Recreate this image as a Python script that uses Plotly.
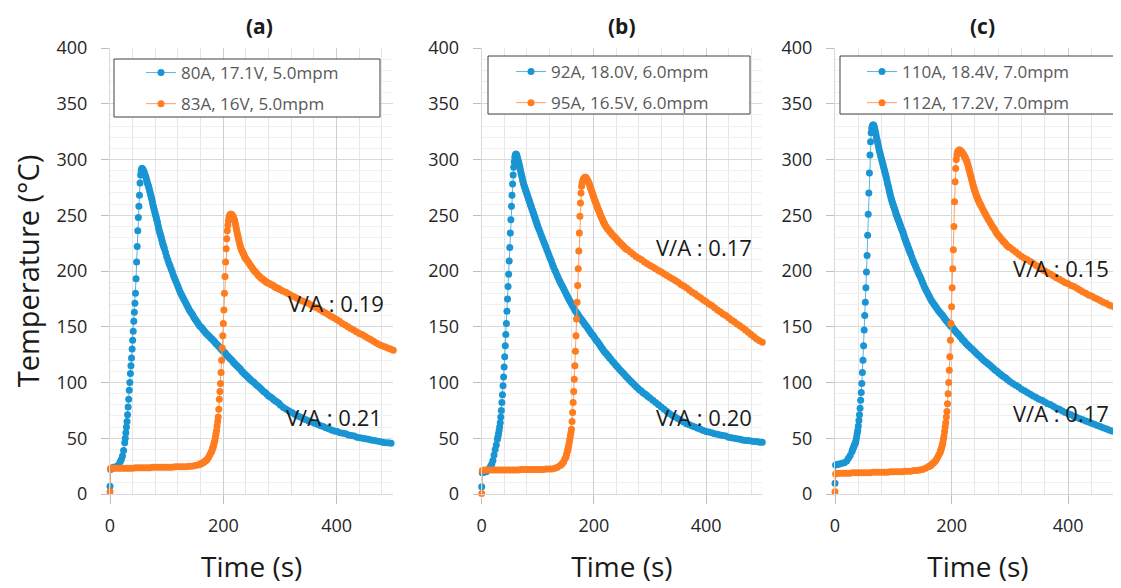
import plotly.graph_objects as go

# The page body has an 8px margin, so the figure is laid out in reference pixels minus 8.
OFF = 8
W, H = 1121 - OFF, 588 - OFF
FONT = "Open Sans"
BLUE = "#1A95D4"
ORANGE = "#FF7C1F"

# ---------------- data ----------------
# each series: segments of (first time s, time step s, [temperatures C])
A_BLUE = [
    (0, 1, [7, 22]),
    (3, 3, [23, 24, 24, 25, 26, 29]),
    (20, 2, [31, 34, 39]),
    (26, 1, [46, 50, 55, 60, 65, 71, 78, 85, 93, 100, 108, 115, 122, 130, 138, 146, 155, 163, 171, 180,
             193, 208, 222, 236, 248, 258, 268, 279, 286, 290, 292,
             292, 291, 290, 289, 287.5, 286, 284.5, 283, 281, 279, 277.5, 276, 274, 272, 270, 268, 266, 264,
             261.5, 259, 257, 255, 253, 251, 249, 247, 245, 243, 240.5, 238, 236, 234, 232.5, 231, 229, 227,
             225, 223, 221.5, 220]),
    (98, 2, [216.5, 213, 210, 207, 204.5, 201.5, 199, 196, 193.5, 191, 188.5, 186, 183.5, 181, 179, 177, 175,
             173, 171, 169, 167, 165, 163.5, 162, 160.5, 158.5, 157, 155.5, 154, 152.5, 151, 150, 149, 147.5,
             146.5, 145, 144, 143, 142, 141, 140, 139, 138, 137, 135.5, 134.5, 133.5, 132.5, 131.5, 130, 129,
             128, 127, 126, 124.5, 123.5, 122.5, 121.5, 120.5, 119.5, 118, 117, 116, 115, 114, 113, 112,
             110.5, 109.5, 108.5, 107.5, 106.5, 105.5, 104.5, 103.5, 102.5, 101.5]),
    (253, 3, [100.5, 99, 97.5, 96.5, 95, 93.5, 92, 91, 89.5, 88, 87, 86, 84.5, 83.5, 82.5, 81.5]),
    (301, 5, [79.5, 77.5, 76, 74.5, 73, 71.5, 70, 69, 67.5, 66.5, 65.5, 64.5, 63.5, 62.5, 61.5, 60.5, 59.5,
              58.5, 57.5, 56.5, 56, 55, 54.5, 54, 53, 52.5, 52, 51, 50.5, 50, 49.5, 49, 48.5, 48, 47.5, 47,
              46.5, 46, 46, 45.5]),
]

A_ORANGE = [
    (0, 1, [2, 23]),
    (5, 5, [23, 23, 23, 23, 23, 23, 23, 23, 23.5, 23.5, 23.5, 23.5, 23.5, 23.5, 24, 24, 24, 24, 24, 24,
            24, 24, 24.5, 24.5, 24.5, 24.5, 24.5, 25, 25, 25.5, 26]),
    (158, 2, [26.5, 27, 27.5, 28, 28.7, 29.5, 30, 31.5, 33, 35, 37]),
    (179, 1, [38, 39, 41, 42, 44, 46, 48, 51, 54, 57, 61, 65, 69, 76, 85, 92, 99, 109, 120, 131, 142, 153,
              165, 180, 195, 208, 220, 229, 236, 241, 245, 248, 249.5, 250.5, 251, 251, 250.5, 250, 249,
              248, 246.5, 245, 243, 240.5, 238, 235.5, 233, 231, 228.5, 226, 224, 222, 220.5, 219, 218,
              217, 216, 215, 213.5, 212.5, 211.5, 211]),
    (242, 2, [209.5, 208, 206.5, 205, 203.5, 202, 200.5, 199.5, 198.5, 197, 196, 195, 194, 193, 192.5,
              191.5, 191, 190, 189.5, 189, 188.5, 188, 187.5, 187, 186, 185.5, 185, 184.5, 184, 183.5]),
    (305, 5, [182, 181, 179.5, 178, 177, 175.5, 174, 173, 172, 171, 169.5, 168, 167, 165.5, 164, 162.5,
              161, 159.5, 158, 156.5, 155, 153, 151.5, 150, 148.5, 147, 145.5, 144, 143, 141.5, 140, 138.5,
              137, 135.5, 134, 133, 132, 131, 130, 129]),
]

B_BLUE = [
    (0, 1, [6.5, 19]),
    (4, 4, [19.5, 20, 21.5]),
    (14, 2, [23, 25, 27, 30, 35, 40, 44, 49]),
    (29, 1, [51.5, 54, 57, 60, 64, 69, 75, 82, 89, 97, 105, 114, 123, 133, 143, 153, 164, 175, 186, 197,
             209, 221, 234, 246, 258, 268, 278, 286, 293, 298, 302, 304, 305,
             304.5, 303, 301, 299, 297, 295, 293, 290.5, 288, 286, 284, 281.5, 279.5, 277.5, 276, 274.5,
             273, 271.5, 270, 268.5, 267, 265.5, 264, 262.5, 261, 259.5, 258, 256.5, 255, 253.5, 252,
             250.5, 249, 247.5, 246, 244.5, 243, 241.5, 240]),
    (102, 2, [237.5, 235, 232, 229.5, 227, 224.5, 222, 219, 216.5, 214, 211.5, 209, 206, 203.5, 201, 199,
              196.5, 194.5, 192, 190, 188, 186, 184, 182, 180, 178, 176, 174, 172.5, 170.5, 168.5, 167,
              165, 163.5, 162, 160.5, 159, 157.5, 156.5, 155, 153.5, 152, 151, 149.5, 148, 146.5, 145,
              143.5, 142.5, 141, 139.5, 138, 137, 135.5, 134, 132.5, 131, 129.5, 128, 127, 126, 124.5,
              123.5, 122, 121]),
    (233, 3, [119, 117.5, 115.5, 114, 112, 110.5, 109, 107.5, 105.5, 104, 102.5, 101, 99.5, 98, 96.5, 95,
              93.5, 92.5, 91, 90, 89, 87.5]),
    (300, 5, [86, 84, 82, 80, 78, 76, 74, 72, 70.5, 69, 67.5, 66, 64.5, 63, 62, 61, 60, 59, 58, 57, 56,
              55.5, 55, 54, 53.5, 53, 52.5, 52, 51, 50.5, 50, 49.5, 49, 48.5, 48, 48, 47.5, 47, 47, 46.5,
              46.5]),
]

B_ORANGE = [
    (0, 1, [0.5, 21]),
    (5, 5, [21.5, 21.5, 21.5, 21.5, 21.5, 21.5, 21.5, 21.5, 21.5, 21.5, 21.5, 21.5, 21.5, 22, 22, 22, 22,
            22, 22, 22, 22, 22, 22.5, 22.5, 22.5, 23, 24, 25.5]),
    (142, 2, [26.5, 27.5, 29, 31.5, 33]),
    (151, 1, [35, 37, 39, 41, 43.5, 46, 49, 52, 55, 58, 65, 73, 82, 92, 103, 115, 128, 142, 157, 172, 187,
              202, 218, 234, 249, 261, 270, 276, 279, 281, 282, 283, 283.5, 284, 284, 283.5, 283, 282, 281,
              280, 279, 277.5, 276, 274.5, 273, 271.5, 270, 268.5, 267, 265.5, 264, 263, 261.5, 260, 259,
              257.5, 256, 255, 253.5, 252.5, 251, 250, 248.5, 247.5, 246.5, 245, 244, 243, 242, 241]),
    (222, 2, [239.5, 238, 237, 235.5, 234.5, 233, 232, 231, 230, 229, 227.5, 226.5, 225.5, 224.5, 223.5,
              222.5, 221.5, 220.5, 219.5, 219]),
    (265, 5, [217, 215, 213, 211.5, 210, 208, 206.5, 205, 203.5, 202, 200.5, 199, 197.5, 196, 194.5, 193,
              191.5, 190, 188, 186.5, 185, 183, 181, 179.5, 177.5, 176, 174, 172.5, 170.5, 169, 167, 165,
              163.5, 161.5, 160, 158, 156, 154.5, 152.5, 151, 149, 147, 145, 143, 141, 139, 137.5, 136]),
]

C_BLUE = [
    (0, 1, [9.6, 26]),
    (4, 4, [26.5, 27, 27.5, 28, 29.5]),
    (23, 3, [32, 34.5, 38]),
    (30, 1, [39.5, 41, 42, 43.5, 45, 46, 48, 51, 54, 57, 61, 66, 71, 77, 84, 91, 99, 109, 120, 133, 147,
             160, 172, 185, 199, 214, 232, 251, 270, 288, 304, 316, 324, 328, 330, 331, 331, 330, 328,
             325.5, 323, 320.5, 318, 315.5, 313, 310.5, 308, 306, 304, 302, 300, 298, 296, 294, 292, 290,
             288, 286, 284, 281.5, 279, 277, 275, 272.5, 270, 268, 266, 264, 262, 260.5, 259, 257.5, 256,
             254.5, 252.5, 251, 249.5, 248, 246.5, 245.5, 244, 242.5, 241, 239.5, 238, 237, 235.5, 234,
             232, 230.5, 229, 227.5, 226, 224.5, 223.5, 222, 220.5, 219, 217.5, 216.5, 215]),
    (132, 2, [212, 209.5, 207, 204.5, 202, 199.5, 197, 195, 192.5, 190, 187.5, 185, 183, 181, 179, 177,
              175, 173, 171.5, 170, 168.5, 167, 165.5, 164, 163, 161.5, 160.5, 159, 157.5, 156, 155, 153.5,
              152.5, 151, 150, 149, 147.5, 146.5, 145, 144, 143, 141.5, 140.5, 139, 138, 137, 135.5, 134.5,
              133.5, 132.5]),
    (233, 3, [131, 129.5, 128, 126.5, 125, 123.5, 122, 120.5, 119, 118, 116.5, 115.5, 114, 112.5, 111, 110,
              108.5, 107.5, 106, 105, 104, 102.5]),
    (300, 5, [101, 99, 97.5, 96, 94, 92.5, 91, 89.5, 88, 86.5, 85, 84, 82.5, 81, 80, 78.5, 77, 76, 74.5,
              73, 72, 71, 69.5, 68.5, 67.5, 66.5, 65.5, 64.5, 63.5, 62.5, 61.5, 60.5, 59.5, 58.5, 57.5,
              56.5, 56, 55, 54]),
]

C_ORANGE = [
    (0, 1, [2, 18]),
    (5, 5, [18.5, 18.5, 18.5, 18.5, 18.5, 19, 19, 19, 19, 19, 19, 19, 19.5, 19.5, 19.5, 19.5, 19.5, 19.5,
            20, 20, 20, 20, 20, 20.5, 20.5, 20.5, 21, 21, 21.5, 22, 23, 24.5]),
    (162, 2, [25, 25.5, 26.5, 27.5, 28.5, 29.5, 31, 33, 35, 37]),
    (181, 1, [38.5, 40, 42, 44, 46, 49, 52, 56, 60, 64, 69, 74, 81, 90, 100, 111, 123, 138, 153, 168, 185,
              202, 219, 240, 262, 280, 292, 300, 304, 306.5, 307.5, 308, 308.5, 308.5, 308, 307.5, 307,
              306.5, 305.5, 305, 304, 303, 302, 301, 299.5, 298.5, 297, 295, 293, 291, 289, 287, 285, 283,
              281, 279, 277, 275, 273, 271.5, 270, 268.5, 267, 266, 264.5, 263.5, 262, 261, 260, 259]),
    (252, 2, [257, 255, 253, 251, 249, 247, 245.5, 243.5, 242, 240, 238.5, 237, 235, 233.5, 232, 231,
              229.5, 228.5, 227, 226, 225, 223.5, 222.5, 221.5, 221]),
    (305, 5, [219, 217, 215, 213, 211.5, 210, 208.5, 207, 205, 203.5, 201.5, 200, 198.5, 197, 195.5, 194,
              192.5, 191, 189.5, 188.5, 187, 186, 184.5, 183, 181.5, 180, 178.5, 177.5, 176, 175, 173.5,
              172, 171, 169.5, 168.5, 167.5, 166.5, 165]),
]

PANEL_TITLES = ["(a)", "(b)", "(c)"]
LEGEND_NAMES = [("80A, 17.1V, 5.0mpm", "83A, 16V, 5.0mpm"),
                ("92A, 18.0V, 6.0mpm", "95A, 16.5V, 6.0mpm"),
                ("110A, 18.4V, 7.0mpm", "112A, 17.2V, 7.0mpm")]
VA_ORANGE = ["V/A : 0.19", "V/A : 0.17", "V/A : 0.15"]
VA_BLUE = ["V/A : 0.21", "V/A : 0.20", "V/A : 0.17"]
X_TICKS = [0, 200, 400]
Y_TICKS = [0, 50, 100, 150, 200, 250, 300, 350, 400]

SERIES = [(A_BLUE, A_ORANGE), (B_BLUE, B_ORANGE), (C_BLUE, C_ORANGE)]

# ---------------- layout geometry (reference pixels) ----------------
PLOT_X = [(110, 393.3), (481.7, 762.3), (835, 1121)]
X_RANGES = [[0, 500], [0, 500], [0, (1121 - 835) / 0.583]]
PLOT_TOP, PLOT_BOT = 48, 494
VA_POS_ORANGE = [(399, 171), (396, 221.5), (388, 203)]
VA_POS_BLUE = [(395, 69), (396, 69), (388, 72.6)]
TITLE_X = [259, 622, 982]
LEG_TEXT_X = [183, 553, 904]
LEG_ROW1_Y = [72, 71, 71]
LEG_BOX = [(114, 59, 380, 117), (488, 56, 750, 114), (840, 56, 1114, 114)]


def px(xp):
    return (xp - OFF) / W


def py(yp):
    return 1 - (yp - OFF) / H


def expand(segments):
    ts, vs = [], []
    for t0, dt, vals in segments:
        for k, v in enumerate(vals):
            ts.append(t0 + dt * k)
            vs.append(v)
    return ts, vs


fig = go.Figure()

for i, (blue, orange) in enumerate(SERIES):
    sfx = "" if i == 0 else str(i + 1)
    leg = "legend" + sfx
    for segs, color, lcolor, name in ((blue, BLUE, "#5DB3E2", LEGEND_NAMES[i][0]),
                                      (orange, ORANGE, "#FF9F5E", LEGEND_NAMES[i][1])):
        xs, ys = expand(segs)
        fig.add_trace(go.Scatter(
            x=xs, y=ys, mode="lines+markers", name=name,
            line=dict(color=lcolor, width=1),
            marker=dict(color=color, size=7, symbol="circle", line=dict(width=0)),
            xaxis="x" + sfx, yaxis="y" + sfx, legend=leg, legendgroup=leg + name,
            cliponaxis=False, showlegend=True,
        ))

layout = dict(
    width=W, height=H,
    margin=dict(l=0, r=0, t=0, b=0),
    paper_bgcolor="white", plot_bgcolor="white",
    font=dict(family=FONT, color="#262626"),
    showlegend=True,
)

annotations = []
shapes = []
for i in range(3):
    sfx = "" if i == 0 else str(i + 1)
    x0, x1 = PLOT_X[i]
    layout["xaxis" + sfx] = dict(
        domain=[px(x0), min(1.0, px(x1))], range=X_RANGES[i], anchor="y" + sfx,
        tickmode="array", tickvals=X_TICKS, ticks="outside", ticklen=9, tickcolor="#bfbfbf",
        tickfont=dict(size=18, color="#262626", family=FONT), ticklabelstandoff=6,
        showgrid=True, gridcolor="#cfcfcf", gridwidth=1,
        minor=dict(dtick=40, tick0=0, showgrid=True, gridcolor="#e6e6e6", ticks=""),
        showline=True, linecolor="#d9d9d9", zeroline=False, fixedrange=True,
        title=dict(text="Time (s)", font=dict(size=28, color="#1a1a1a", family=FONT), standoff=21),
        automargin=False,
    )
    ydict = dict(
        domain=[py(PLOT_BOT), py(PLOT_TOP)], range=[0, 400], anchor="x" + sfx,
        tickmode="array", tickvals=Y_TICKS, ticks="outside", ticklen=8, tickcolor="#bfbfbf",
        tickfont=dict(size=18, color="#262626", family=FONT), ticklabelstandoff=10,
        showgrid=True, gridcolor="#d9d9d9", gridwidth=1,
        minor=dict(dtick=10, tick0=0, showgrid=True, gridcolor="#f0f0f0", ticks=""),
        showline=True, linecolor="#d9d9d9", zeroline=False, fixedrange=True,
        automargin=False,
    )
    if i == 0:
        ydict["title"] = dict(text="Temperature (°C)", font=dict(size=29, color="#1a1a1a", family=FONT),
                              standoff=8)
    layout["yaxis" + sfx] = ydict

    # legend frame
    bx0, by0, bx1, by1 = LEG_BOX[i]
    shapes.append(dict(type="rect", xref="paper", yref="paper",
                       x0=px(bx0), x1=px(bx1), y0=py(by1), y1=py(by0),
                       line=dict(color="#404040", width=1), fillcolor="white", layer="above"))
    layout["legend" + sfx] = dict(
        x=px(LEG_TEXT_X[i] - 42), y=py(LEG_ROW1_Y[i] - 17), xanchor="left", yanchor="top",
        bgcolor="rgba(0,0,0,0)", borderwidth=0,
        font=dict(size=17, color="#595959", family=FONT),
        traceorder="grouped", tracegroupgap=6, itemwidth=30,
    )

    annotations.append(dict(text="<b>%s</b>" % PANEL_TITLES[i], xref="paper", yref="paper",
                            x=px(TITLE_X[i]), y=py(26), xanchor="center", yanchor="middle",
                            showarrow=False, font=dict(size=21, color="#1a1a1a", family=FONT)))
    for txt, (ax, ay) in ((VA_ORANGE[i], VA_POS_ORANGE[i]), (VA_BLUE[i], VA_POS_BLUE[i])):
        annotations.append(dict(text=txt, xref="x" + sfx, yref="y" + sfx, x=ax, y=ay,
                                xanchor="center", yanchor="middle", showarrow=False,
                                font=dict(size=22, color="#1a1a1a", family=FONT)))

layout["annotations"] = annotations
layout["shapes"] = shapes
fig.update_layout(**layout)

fig.write_html("out.html")
